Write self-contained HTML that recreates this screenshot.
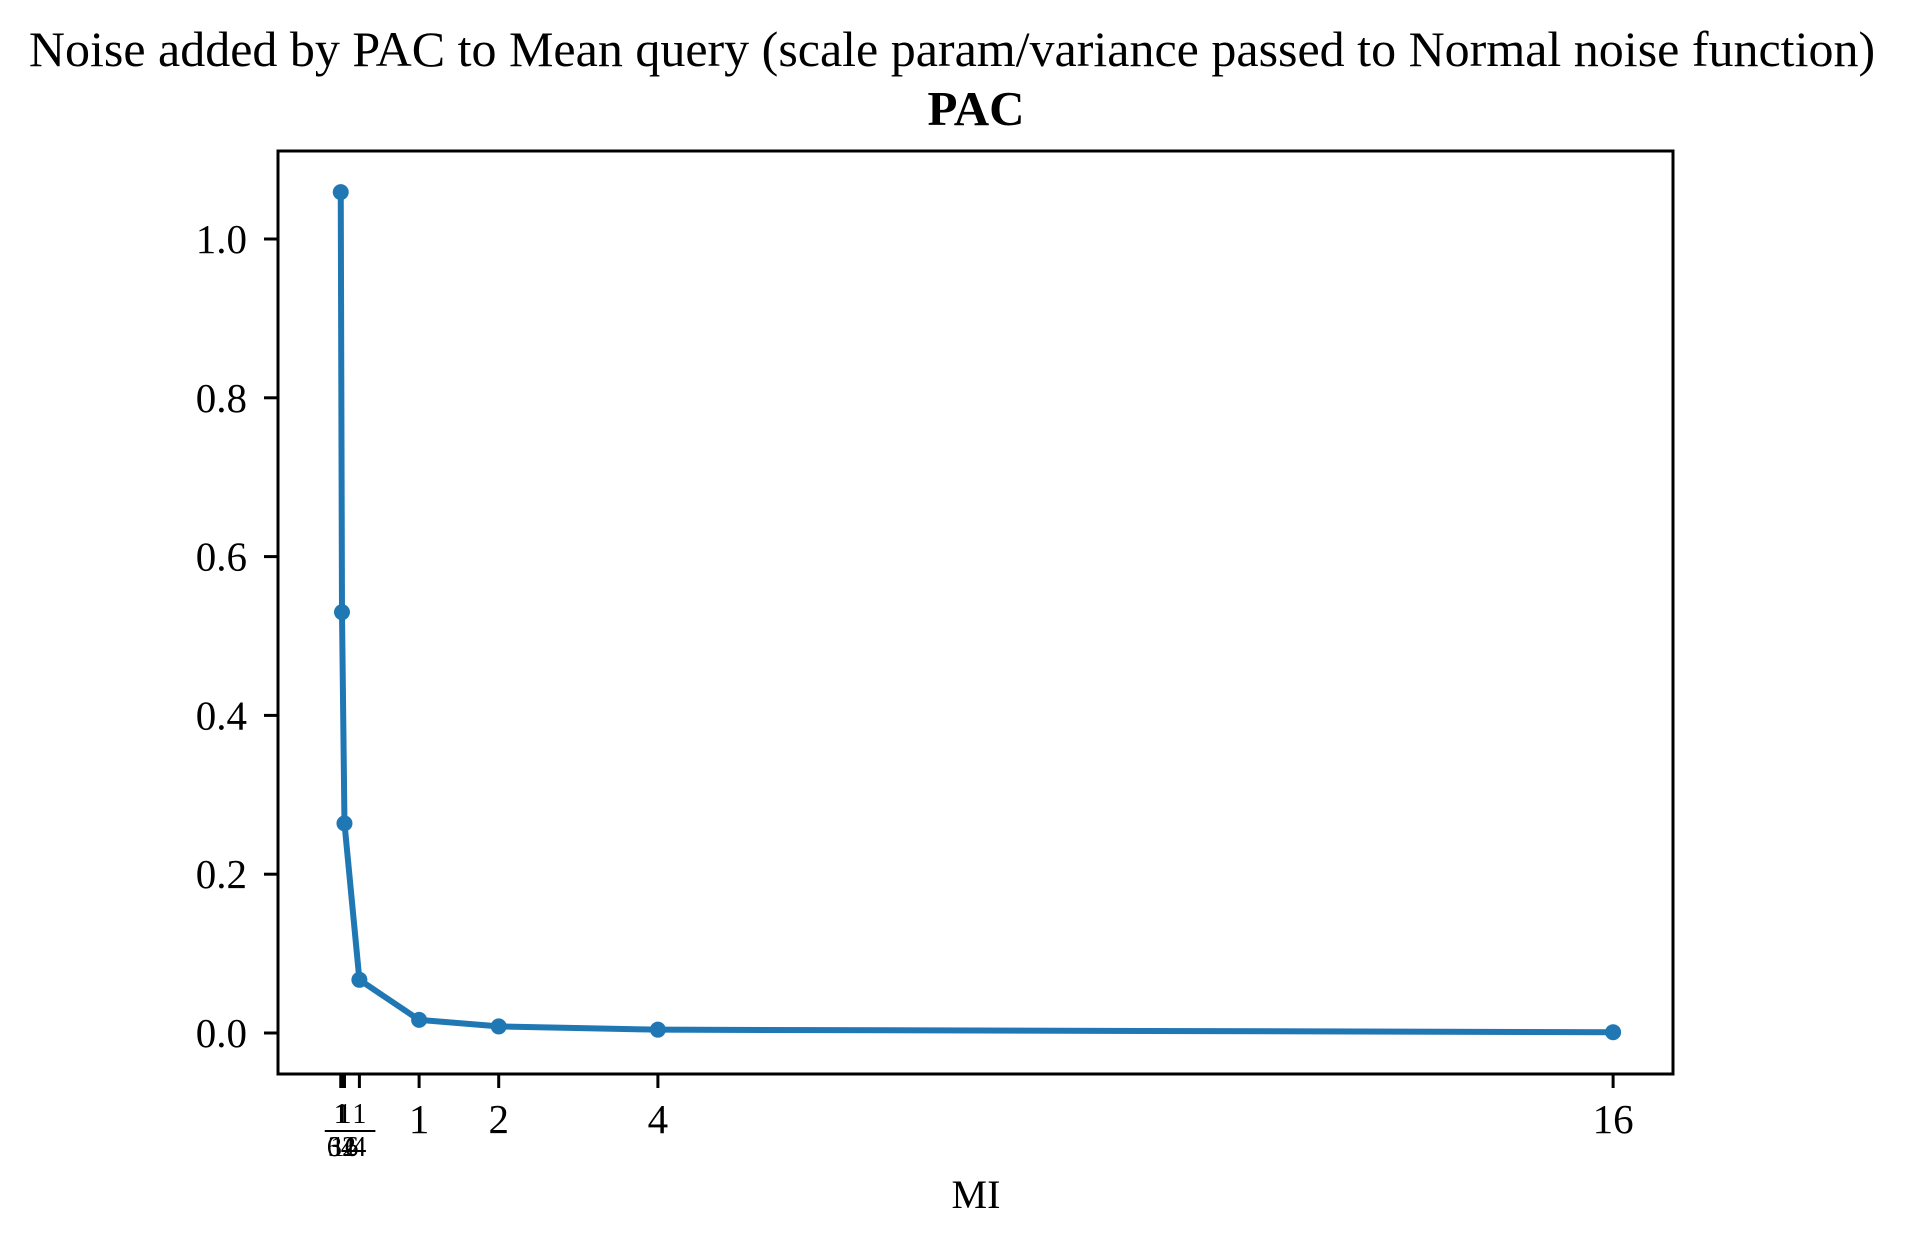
<!DOCTYPE html>
<html><head><meta charset="utf-8"><style>
html,body{margin:0;padding:0;background:#fff}
svg{display:block}
text{font-family:"Liberation Serif","Times New Roman",serif;fill:#000}
</style></head><body>
<svg id="chart" width="1905" height="1244" viewBox="0 0 1905 1244" xmlns="http://www.w3.org/2000/svg">
<rect width="1905" height="1244" fill="#fff"/>
<text x="952" y="66" font-size="50" text-anchor="middle">Noise added by PAC to Mean query (scale param/variance passed to Normal noise function)</text>
<text x="976" y="125" font-size="49" font-weight="bold" text-anchor="middle">PAC</text>
<g id="plot"></g>
<text x="976" y="1208" font-size="40" text-anchor="middle">MI</text>
</svg>
<script>
const xValues = [1/64, 1/32, 1/16, 1/4, 1, 2, 4, 16];
const noiseValues = [1.059, 0.53, 0.264, 0.067, 0.0165, 0.0083, 0.0042, 0.001];
const xTickValues = [1/64, 1/32, 1/16, 1/4, 1, 2, 4, 16];
const xTickLabels = ["1/64", "1/32", "1/16", "1/4", "1", "2", "4", "16"];
const yTickValues = [0, 0.2, 0.4, 0.6, 0.8, 1.0];
const yTickLabels = ["0.0", "0.2", "0.4", "0.6", "0.8", "1.0"];

const NS = "http://www.w3.org/2000/svg";
const L = 278, R = 1673, T = 151, B = 1074;
const xScale = v => 339.5 + v * 79.6;
const yScale = v => 1033 - v * 794;
const g = document.getElementById('plot');
function mk(tag, attrs) {
  const e = document.createElementNS(NS, tag);
  for (const k in attrs) e.setAttribute(k, attrs[k]);
  g.appendChild(e);
  return e;
}
yTickValues.forEach((v, i) => {
  const y = yScale(v);
  const t = mk('line', {x1: L - 14, x2: L, y1: y, y2: y, stroke: '#000', 'stroke-width': 3});
  
  
  const lb = mk('text', {x: 247, y: y + 14, 'font-size': 41, 'text-anchor': 'end'});
  lb.textContent = yTickLabels[i];
  
  
});
xTickValues.forEach((v, i) => {
  const x = xScale(v);
  const t = mk('line', {x1: x, x2: x, y1: B, y2: B + 14, stroke: '#000', 'stroke-width': 3});
  
  
  const s = xTickLabels[i];
  if (s.indexOf('/') >= 0) {
    const parts = s.split('/');
    const n = mk('text', {x: x, y: 1123, 'font-size': 28, 'text-anchor': 'middle'});
    n.textContent = parts[0];
    
    
    const bar = mk('line', {x1: x - 16, x2: x + 16, y1: 1131, y2: 1131, stroke: '#000', 'stroke-width': 2});
    
    
    const d = mk('text', {x: x, y: 1156, 'font-size': 28, 'text-anchor': 'middle'});
    d.textContent = parts[1];
    
    
  } else {
    const lb = mk('text', {x: x, y: 1133, 'font-size': 41, 'text-anchor': 'middle'});
    lb.textContent = s;
    
    
  }
});
const pts = xValues.map((v, i) => xScale(v) + ',' + yScale(noiseValues[i])).join(' ');
const line = mk('polyline', {points: pts, fill: 'none', stroke: '#1f77b4', 'stroke-width': 6, 'stroke-linejoin': 'round', 'stroke-linecap': 'round'});


xValues.forEach((v, i) => {
  const c = mk('circle', {cx: xScale(v), cy: yScale(noiseValues[i]), r: 8, fill: '#1f77b4'});
  
  
});
const fr = mk('rect', {x: L, y: T, width: R - L, height: B - T, fill: 'none', stroke: '#000', 'stroke-width': 3});


</script>
</body></html>
